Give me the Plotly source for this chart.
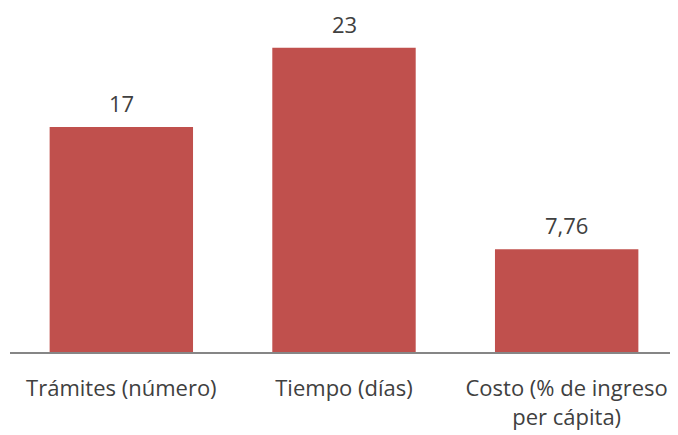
import plotly.graph_objects as go

# data
categories = ["Trámites (número)", "Tiempo (días)", "Costo (% de ingreso<br>per cápita)"]
values = [17, 23, 7.76]
value_labels = ["17", "23", "7,76"]

fig = go.Figure()
fig.add_trace(go.Bar(
    x=categories,
    y=values,
    marker=dict(color="#C0504D", line=dict(width=0)),
    hoverinfo="x+y",
))

# value labels above the bars
for cat, val, lab in zip(categories, values, value_labels):
    fig.add_annotation(x=cat, y=val, text=lab, showarrow=False,
                       yanchor="middle", yshift=24,
                       font=dict(size=22, color="#404040"))

# page body has an 8px margin, so the figure is a bit smaller than the window
fig.update_layout(
    width=670, height=427,
    margin=dict(l=2, r=0, t=0, b=83),
    paper_bgcolor="white",
    plot_bgcolor="white",
    font=dict(family="Open Sans", size=22, color="#404040"),
    bargap=0.356,
    showlegend=False,
)
fig.update_xaxes(showline=True, linecolor="#868686", linewidth=2,
                 ticks="", automargin=False, ticklabelstandoff=16,
                 tickfont=dict(size=22, color="#404040"))
fig.update_yaxes(visible=False, range=[0, 26.0], automargin=False)

fig.write_html("out.html")
